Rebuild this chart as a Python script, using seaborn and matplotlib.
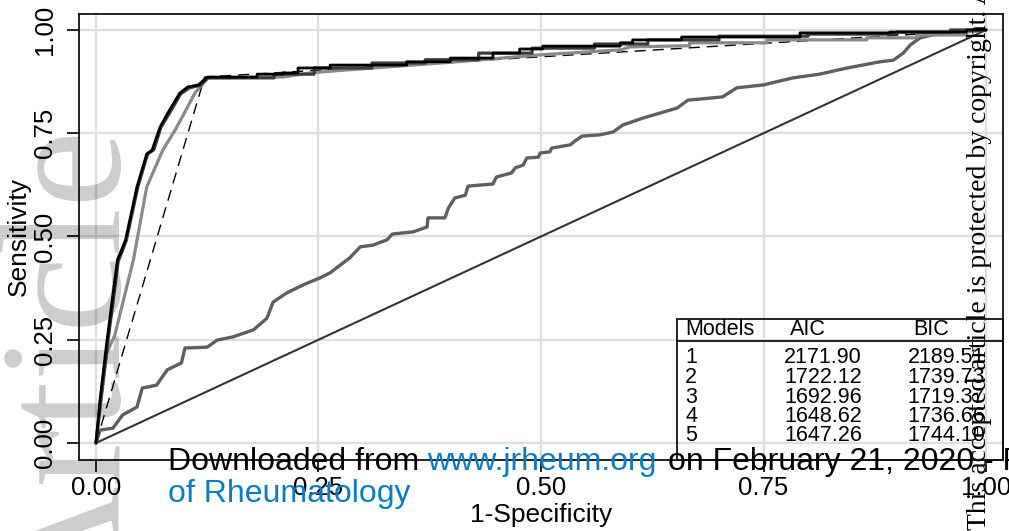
import matplotlib
matplotlib.use("Agg")
import matplotlib.pyplot as plt
import seaborn as sns
from matplotlib.patches import Rectangle

# ROC curves (1-specificity, sensitivity)
black_x = [0, 0.0045, 0.012, 0.024, 0.033, 0.046, 0.057, 0.063, 0.072, 0.081, 0.094, 0.103, 0.115, 0.125,
           0.181, 0.181, 0.21, 0.21, 0.227, 0.227, 0.263, 0.263, 0.349, 0.349, 0.398, 0.398, 0.446, 0.446,
           0.476, 0.476, 0.502, 0.502, 0.589, 0.589, 0.603, 0.603, 0.658, 0.658, 0.791, 0.791, 0.892, 0.892,
           0.978, 0.978, 1.0]
black_y = [0, 0.104, 0.242, 0.443, 0.49, 0.62, 0.70, 0.709, 0.765, 0.80, 0.847, 0.862, 0.867, 0.886,
           0.886, 0.893, 0.893, 0.896, 0.896, 0.908, 0.908, 0.915, 0.915, 0.923, 0.923, 0.932, 0.932, 0.944,
           0.944, 0.954, 0.954, 0.961, 0.961, 0.969, 0.969, 0.976, 0.976, 0.983, 0.983, 0.993, 0.993, 0.995,
           0.995, 1.0, 1.0]

dark_x = [0, 0.005, 0.013, 0.025, 0.034, 0.047, 0.058, 0.065, 0.073, 0.083, 0.095, 0.105, 0.117, 0.126,
          0.20, 0.20, 0.245, 0.245, 0.31, 0.31, 0.37, 0.37, 0.43, 0.43, 0.49, 0.49, 0.56, 0.56, 0.62, 0.62,
          0.70, 0.70, 0.80, 0.80, 0.90, 0.90, 0.96, 0.96, 1.0]
dark_y = [0, 0.10, 0.24, 0.44, 0.49, 0.62, 0.70, 0.71, 0.765, 0.80, 0.845, 0.86, 0.866, 0.884,
          0.884, 0.893, 0.893, 0.908, 0.908, 0.92, 0.92, 0.928, 0.928, 0.944, 0.944, 0.956, 0.956, 0.966,
          0.966, 0.976, 0.976, 0.985, 0.985, 0.99, 0.99, 0.995, 0.995, 1.0, 1.0]

gray_x = [0, 0.005, 0.012, 0.021, 0.042, 0.057, 0.075, 0.089, 0.102, 0.111, 0.119, 0.125, 0.21, 0.24,
          0.28, 0.40, 0.50, 0.59, 0.60, 0.667, 0.667, 0.754, 0.754, 0.866, 0.866, 0.922, 0.922, 0.978,
          0.978, 1.0]
gray_y = [0, 0.09, 0.218, 0.26, 0.443, 0.62, 0.709, 0.758, 0.81, 0.847, 0.867, 0.884, 0.886, 0.896,
          0.903, 0.922, 0.94, 0.952, 0.959, 0.962, 0.969, 0.969, 0.976, 0.976, 0.981, 0.981, 0.988, 0.988,
          0.995, 1.0]

dash_x = [0, 0.122, 1.0]
dash_y = [0, 0.886, 1.0]

low_x = [0, 0.0045, 0.019, 0.030, 0.046, 0.052, 0.068, 0.08, 0.096, 0.10, 0.125, 0.136, 0.154, 0.177,
         0.192, 0.199, 0.214, 0.233, 0.252, 0.263, 0.285, 0.297, 0.311, 0.327, 0.333, 0.356, 0.372, 0.373,
         0.392, 0.396, 0.403, 0.415, 0.418, 0.446, 0.45, 0.467, 0.471, 0.48, 0.484, 0.497, 0.499, 0.51,
         0.512, 0.533, 0.538, 0.546, 0.566, 0.581, 0.592, 0.615, 0.653, 0.665, 0.704, 0.72, 0.75, 0.783,
         0.813, 0.844, 0.881, 0.896, 0.907, 0.915, 0.926, 0.94, 0.971, 1.0]
low_y = [0, 0.031, 0.036, 0.068, 0.087, 0.133, 0.140, 0.177, 0.194, 0.23, 0.232, 0.249, 0.257, 0.274,
         0.302, 0.341, 0.363, 0.383, 0.40, 0.412, 0.448, 0.475, 0.479, 0.492, 0.506, 0.511, 0.523, 0.545,
         0.545, 0.569, 0.593, 0.60, 0.622, 0.627, 0.644, 0.654, 0.666, 0.673, 0.69, 0.692, 0.702, 0.705,
         0.714, 0.722, 0.731, 0.743, 0.746, 0.753, 0.77, 0.787, 0.811, 0.83, 0.838, 0.86, 0.867, 0.884,
         0.893, 0.908, 0.923, 0.927, 0.944, 0.964, 0.981, 0.988, 0.995, 1.0]

ref_x = [0, 1]
ref_y = [0, 1]

models = ["1", "2", "3", "4", "5"]
aic = ["2171.90", "1722.12", "1692.96", "1648.62", "1647.26"]
bic = ["2189.51", "1739.73", "1719.37", "1736.66", "1744.10"]

ticks = [0, 0.25, 0.5, 0.75, 1.0]
tick_labels = ["0.00", "0.25", "0.50", "0.75", "1.00"]

sns.set_theme(style="whitegrid")
plt.rcParams["font.family"] = ["Liberation Sans", "DejaVu Sans"]
plt.rcParams["text.color"] = "black"
plt.rcParams["axes.labelcolor"] = "black"
plt.rcParams["xtick.color"] = "black"
plt.rcParams["ytick.color"] = "black"

W, H = 1009, 531
fig = plt.figure(figsize=(W / 100, H / 100), dpi=100)
ax = fig.add_axes([79 / W, 71 / H, 924 / W, 446 / H])
ax.set_facecolor("white")

sns.lineplot(x=ref_x, y=ref_y, ax=ax, color="#333333", lw=1.5, sort=False, estimator=None)
sns.lineplot(x=low_x, y=low_y, ax=ax, color="#5f5f5f", lw=2.4, sort=False, estimator=None)
sns.lineplot(x=dash_x, y=dash_y, ax=ax, color="black", lw=1.0, linestyle=(0, (8, 5)), sort=False, estimator=None)
sns.lineplot(x=gray_x, y=gray_y, ax=ax, color="#8a8a8a", lw=2.3, sort=False, estimator=None)
sns.lineplot(x=dark_x, y=dark_y, ax=ax, color="#3c3c3c", lw=2.3, sort=False, estimator=None)
sns.lineplot(x=black_x, y=black_y, ax=ax, color="black", lw=2.0, sort=False, estimator=None)

ax.set_xlim(-0.0191, 1.0191)
ax.set_ylim(-0.0412, 1.0387)
ax.set_xticks(ticks)
ax.set_xticklabels(tick_labels)
ax.set_yticks(ticks)
ax.set_yticklabels(tick_labels, rotation=90, va="center")
ax.grid(True, color="#dedede", lw=1.6)
ax.tick_params(axis="both", which="major", direction="out", length=8.5, width=1.2,
               color="black", labelcolor="black", labelsize=18.5, left=True, bottom=True)
ax.tick_params(axis="y", pad=7)
ax.tick_params(axis="x", pad=3)
for s in ax.spines.values():
    s.set_color("#111111")
    s.set_linewidth(1.3)
ax.set_xlabel("1-Specificity", fontsize=19, labelpad=2, color="black")
ax.set_ylabel("Sensitivity", fontsize=19, labelpad=2, color="black")

# legend table in the lower right corner
bx0, by1, byh = 0.653, 0.300, 0.247
ax.add_patch(Rectangle((bx0, -0.0412), 1.0191 - bx0, by1 + 0.0412, fill=False,
                       edgecolor="#111111", lw=1.3, zorder=5, clip_on=False))
ax.plot([bx0, 1.0191], [byh, byh], color="#111111", lw=1.3, zorder=5)
ax.text(0.662, 0.274, "Models", fontsize=15.5, va="center", color="black", zorder=6)
ax.text(0.780, 0.274, "AIC", fontsize=15.5, va="center", color="black", zorder=6)
ax.text(0.918, 0.274, "BIC", fontsize=15.5, va="center", color="black", zorder=6)
row_y = [0.206, 0.159, 0.111, 0.064, 0.017]
for m, a, b, yy in zip(models, aic, bic, row_y):
    ax.text(0.662, yy, m, fontsize=15.5, va="center", color="black", zorder=6)
    ax.text(0.773, yy, a, fontsize=15.5, va="center", color="black", zorder=6)
    ax.text(0.912, yy, b, fontsize=15.5, va="center", color="black", zorder=6)

# watermarks from the journal page
fig.text(118 / W, 1 - 128 / H, "Article", rotation=90, rotation_mode="anchor", ha="right",
         va="baseline", fontsize=125, family="Liberation Serif", color="black", alpha=0.2, zorder=10)
fig.text(168 / W, 1 - 470 / H, "Downloaded from", fontsize=23, color="black", va="baseline", zorder=10)
fig.text(427 / W, 1 - 470 / H, "www.jrheum.org", fontsize=23, color="#0a7cc4", va="baseline", zorder=10)
fig.text(668 / W, 1 - 470 / H, "on February 21, 2020 - Published by The Journal", fontsize=23,
         color="black", va="baseline", zorder=10)
fig.text(168 / W, 1 - 502 / H, "of Rheumatology", fontsize=23, color="#0a7cc4", va="baseline", zorder=10)
fig.text(979 / W, 1 - 530 / H, "This accepted article is protected by copyright. All rights reserved.",
         rotation=90, rotation_mode="anchor", ha="left", va="center", fontsize=20,
         family="Liberation Serif", color="black", zorder=10)

fig.savefig("out.png", dpi=100)
